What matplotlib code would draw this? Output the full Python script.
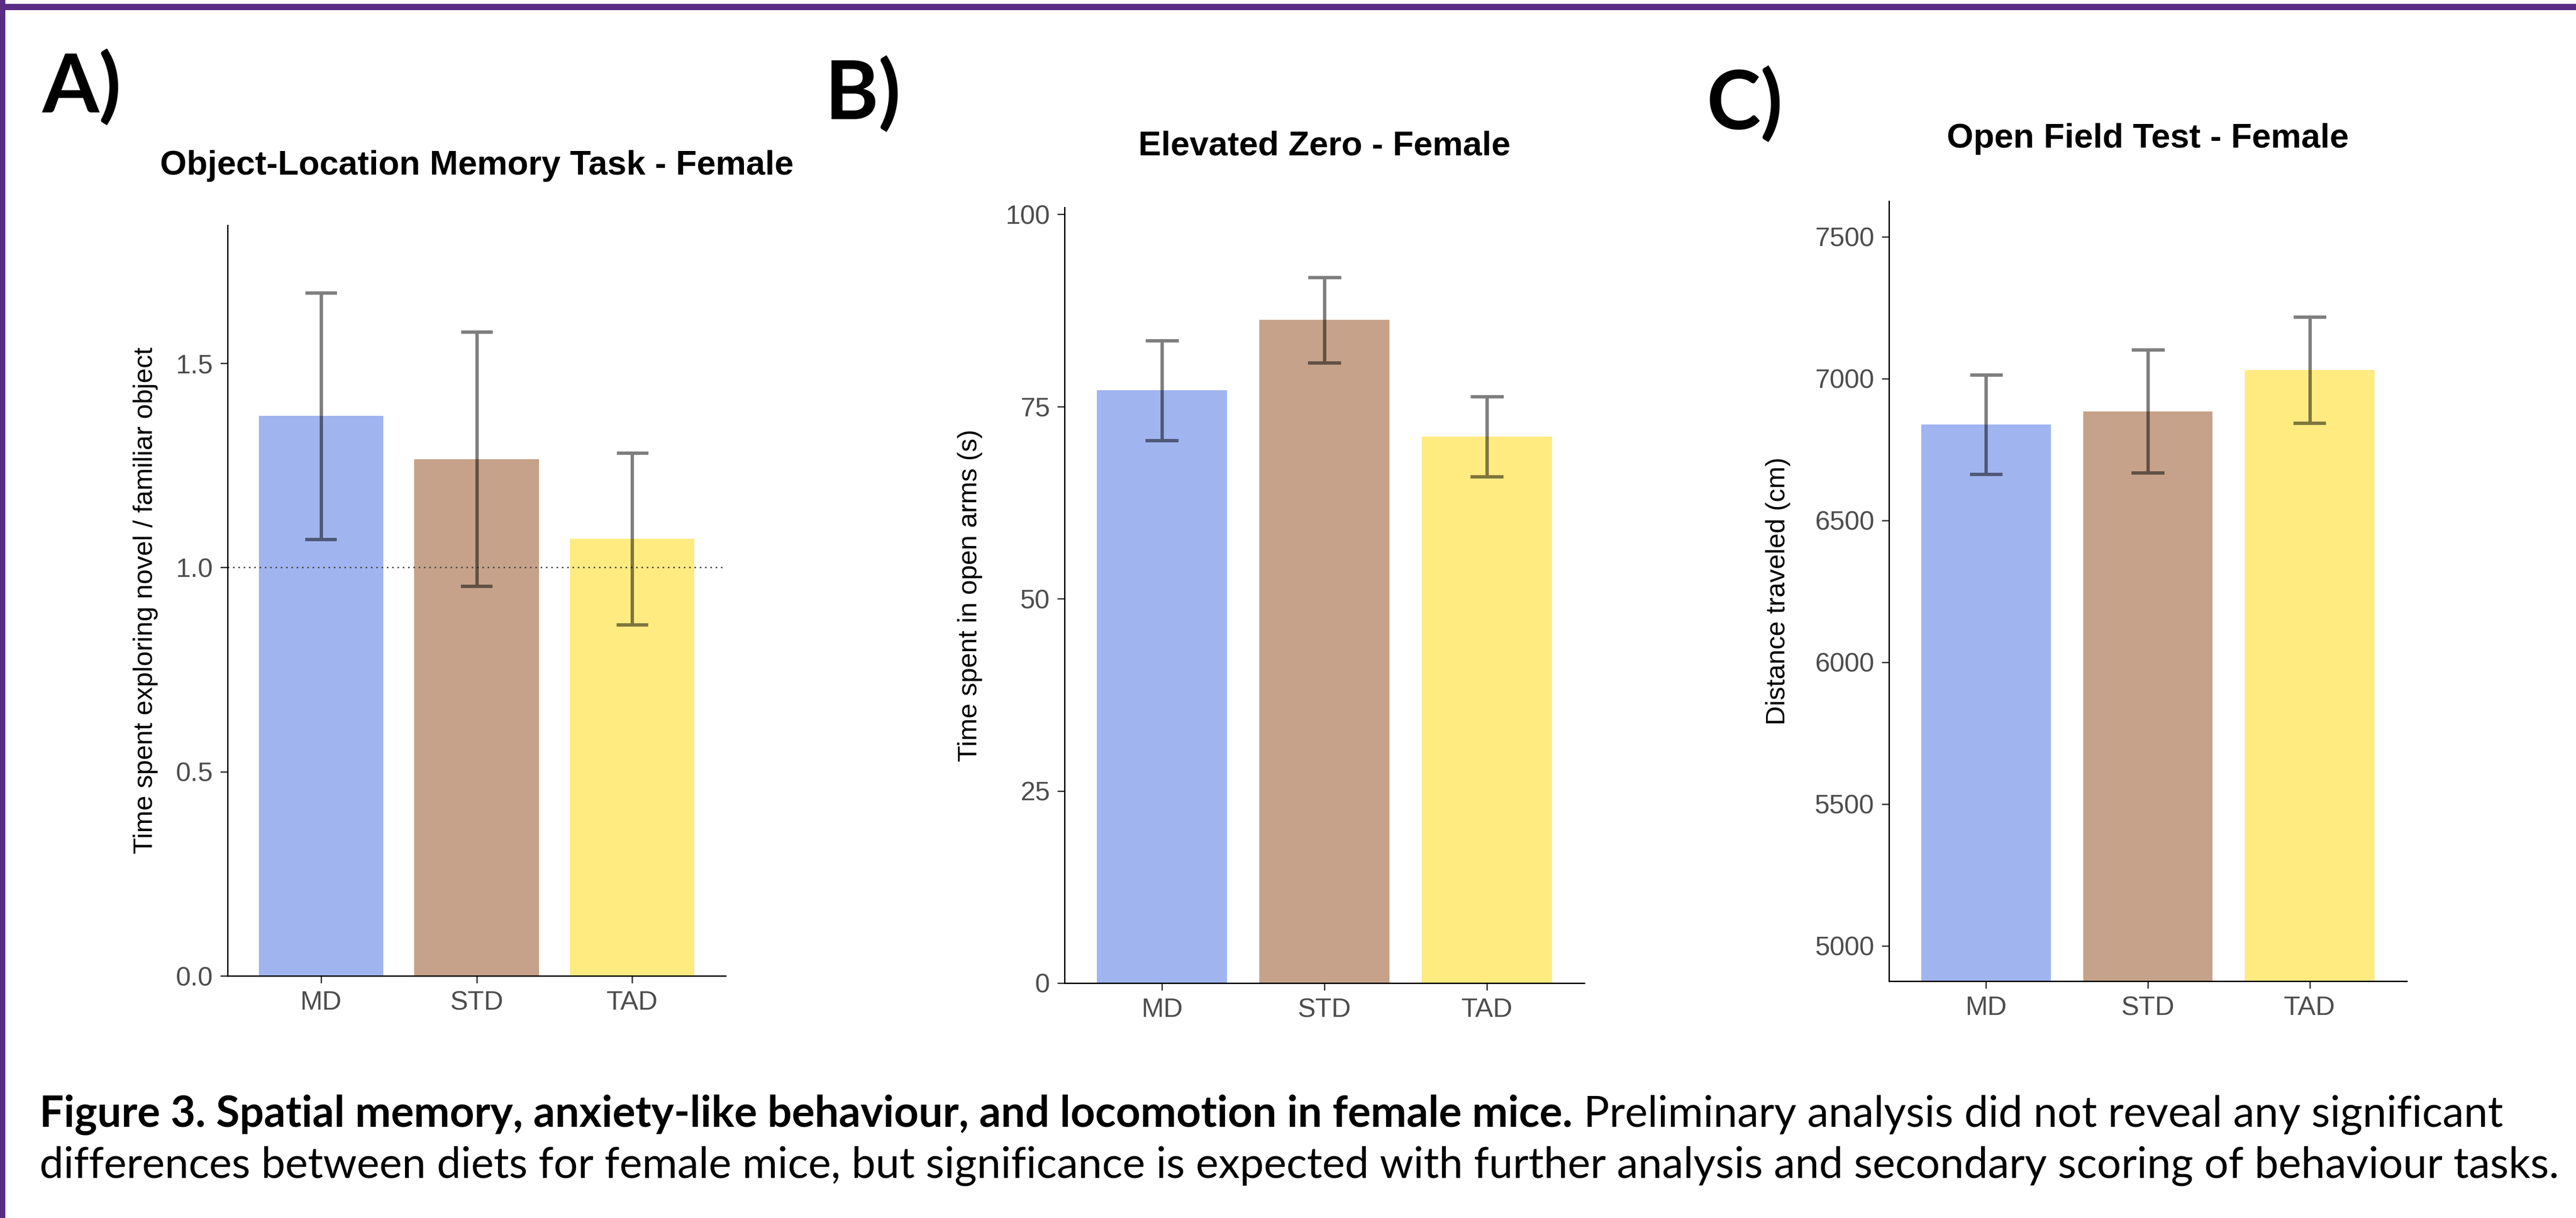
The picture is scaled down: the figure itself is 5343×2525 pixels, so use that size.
import numpy as np
import matplotlib
matplotlib.use('Agg')
import matplotlib.pyplot as plt
from matplotlib.patches import Rectangle

plt.rcParams['font.family'] = ['Liberation Sans', 'DejaVu Sans']

# data (mean and error half-width)
groups = ['MD', 'STD', 'TAD']
bar_colors = ['#A0B4F0', '#C5A289', '#FFEB80']

olm_mean = [1.371, 1.2655, 1.0705]
olm_err = [0.302, 0.3115, 0.2105]
olm_ticks = [0.0, 0.5, 1.0, 1.5]
olm_ticklabels = ['0.0', '0.5', '1.0', '1.5']

ez_mean = [77.1, 86.25, 71.1]
ez_err = [6.5, 5.55, 5.2]
ez_ticks = [0, 25, 50, 75, 100]
ez_ticklabels = ['0', '25', '50', '75', '100']

of_mean = [6837, 6884, 7030]
of_err = [175, 217, 187]
of_ticks = [5000, 5500, 6000, 6500, 7000, 7500]
of_ticklabels = ['5000', '5500', '6000', '6500', '7000', '7500']

W, H = 5343, 2525
fig = plt.figure(figsize=(W / 100, H / 100), dpi=100)

# background axes in pixel coordinates for border, labels and caption
bg = fig.add_axes([0, 0, 1, 1])
bg.set_xlim(0, W)
bg.set_ylim(H, 0)
bg.axis('off')
purple = '#5B2C83'
bg.add_patch(Rectangle((0, 8), W, 13, color=purple, lw=0))
bg.add_patch(Rectangle((0, 0), 11, H, color=purple, lw=0))


def rect(left, top, right, bottom):
    return [left / W, 1 - bottom / H, (right - left) / W, (bottom - top) / H]


def panel(box, mean, err, ylim, ticks, ticklabels, ylabel, ylab_x, title, title_y, ref=None):
    ax = fig.add_axes(rect(*box))
    x = np.arange(len(groups))
    ax.bar(x, mean, width=0.8, color=bar_colors, zorder=1)
    if ref is not None:
        ax.axhline(ref, ls=(0, (1, 2.6)), lw=2.2, color='#444444', zorder=2)
    w = 0.1
    for xi, m, e in zip(x, mean, err):
        ax.plot([xi - w, xi + w, xi, xi, xi - w, xi + w],
                [m + e, m + e, m + e, m - e, m - e, m - e],
                color='black', alpha=0.5, lw=5.0,
                solid_joinstyle='bevel', solid_capstyle='butt', zorder=3)
    ax.set_xlim(-0.6, 2.6)
    ax.set_ylim(*ylim)
    ax.set_xticks(x)
    ax.set_xticklabels(groups)
    ax.set_yticks(ticks)
    ax.set_yticklabels(ticklabels)
    for s in ['top', 'right']:
        ax.spines[s].set_visible(False)
    for s in ['left', 'bottom']:
        ax.spines[s].set_linewidth(2)
        ax.spines[s].set_color('black')
    ax.tick_params(labelsize=40, labelcolor='#4D4D4D', length=10.8, width=2,
                   color='#333333', pad=11)
    cx = (box[0] + box[2]) / 2
    cy = (box[1] + box[3]) / 2
    bg.text(ylab_x, cy, ylabel, rotation=90, ha='center', va='center', fontsize=40)
    bg.text(cx, title_y, title, ha='center', va='baseline', fontsize=51, fontweight='bold')
    return ax


panel((472, 467, 1505, 2023), olm_mean, olm_err, (0, 1.838), olm_ticks, olm_ticklabels,
      'Time spent exploring novel / familiar object', 302,
      'Object-Location Memory Task - Female', 362, ref=1.0)
panel((2208, 430, 3286, 2038), ez_mean, ez_err, (0, 100.9), ez_ticks, ez_ticklabels,
      'Time spent in open arms (s)', 2012,
      'Elevated Zero - Female', 322)
panel((3918, 417, 4992, 2034), of_mean, of_err, (4875, 7625), of_ticks, of_ticklabels,
      'Distance traveled (cm)', 3688,
      'Open Field Test - Female', 306)

# panel letters
for lab, px, py in [('A)', 88, 233), ('B)', 1710, 247), ('C)', 3540, 268)]:
    bg.text(px, py, lab, fontfamily='Lato', fontweight='bold', fontsize=122, va='baseline')

# caption
cap_size = 60
cap1 = bg.text(82, 2335, 'Figure 3. Spatial memory, anxiety-like behaviour, and locomotion in female mice.',
               fontfamily='Lato', fontweight='bold', fontsize=cap_size, va='baseline')
cap2 = bg.annotate(' Preliminary analysis did not reveal any significant', xy=(1, 0), xycoords=cap1,
                   fontfamily='Lato', fontsize=cap_size, va='bottom', ha='left')
cap3 = bg.text(82, 2442, 'differences between diets for female mice, but significance is expected with '
               'further analysis and secondary scoring of behaviour tasks.',
               fontfamily='Lato', fontsize=cap_size, va='baseline')

fig.canvas.draw()
r = fig.canvas.get_renderer()
w1 = cap1.get_window_extent(r).width + cap2.get_window_extent(r).width
w2 = cap3.get_window_extent(r).width
scale = (5132 / w1 + 5210 / w2) / 2
for t in (cap1, cap2, cap3):
    t.set_fontsize(cap_size * scale)

fig.savefig('out.png', dpi=100)
